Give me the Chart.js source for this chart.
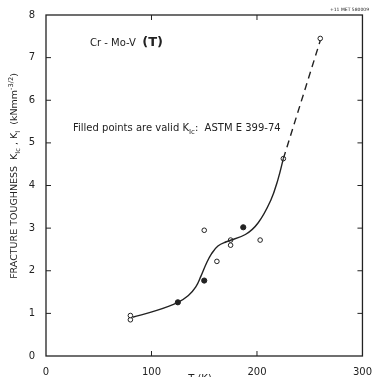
<!DOCTYPE html>
<html>
<head>
<meta charset="utf-8">
<script src="https://cdn.jsdelivr.net/npm/chart.js@4.4.1/dist/chart.umd.min.js"></script>
<style>
  html, body { margin: 0; padding: 0; background: #fff; }
  #wrap { width: 374px; height: 377px; position: relative; }
</style>
</head>
<body>
<div id="wrap"><canvas id="chart"></canvas></div>
<script>
// open circles (invalid K_I), filled (valid K_Ic)
const openT = [80, 80, 150, 162, 175, 175, 203, 225, 260];
const openK = [0.85, 0.95, 2.95, 2.22, 2.6, 2.72, 2.72, 4.63, 7.45];
const filledT = [125, 150, 187];
const filledK = [1.26, 1.77, 3.02];

// hand drawn trend curve
const curveT = [82, 105, 125, 135, 142, 147, 152, 157, 163, 171, 189, 201, 213, 220, 225];
const curveK = [0.91, 1.07, 1.26, 1.42, 1.62, 1.88, 2.17, 2.4, 2.58, 2.68, 2.85, 3.12, 3.65, 4.15, 4.63];
const dashT = [225, 260];
const dashK = [4.63, 7.4];

const xTicks = [0, 100, 200, 300];
const yTicks = [0, 1, 2, 3, 4, 5, 6, 7, 8];

const ink = '#222';
const font = '"DejaVu Sans", sans-serif';

const pts = (xs, ys) => xs.map((x, i) => ({ x: x, y: ys[i] }));

// draws a run of text pieces with sub/superscripts
function drawRich(ctx, parts, x, y, size, align) {
  let total = 0;
  parts.forEach(p => {
    ctx.font = (p.bold ? 'bold ' : '') + (p.size || (p.s ? size * 0.7 : size)) + 'px ' + font;
    total += ctx.measureText(p.t).width;
  });
  let cx = align === 'center' ? x - total / 2 : x;
  parts.forEach(p => {
    const sz = p.size || (p.s ? size * 0.7 : size);
    ctx.font = (p.bold ? 'bold ' : '') + sz + 'px ' + font;
    let dy = 0;
    if (p.s === 'sub') dy = size * 0.3;
    if (p.s === 'sup') dy = -size * 0.45;
    ctx.fillText(p.t, cx, y + dy);
    cx += ctx.measureText(p.t).width;
  });
}

const framePlugin = {
  id: 'frame',
  afterDraw(chart) {
    const ctx = chart.ctx;
    const a = chart.chartArea;
    const xs = chart.scales.x, ys = chart.scales.y;
    ctx.save();
    ctx.strokeStyle = ink;
    ctx.lineWidth = 1.3;
    ctx.strokeRect(a.left, a.top, a.right - a.left, a.bottom - a.top);

    // inward ticks
    ctx.lineWidth = 1;
    ctx.beginPath();
    yTicks.slice(1, -1).forEach(v => {
      const py = ys.getPixelForValue(v);
      ctx.moveTo(a.left, py); ctx.lineTo(a.left + 5, py);
      ctx.moveTo(a.right, py); ctx.lineTo(a.right - 5, py);
    });
    xTicks.slice(1, -1).forEach(v => {
      const px = xs.getPixelForValue(v);
      ctx.moveTo(px, a.bottom); ctx.lineTo(px, a.bottom - 5);
      ctx.moveTo(px, a.top); ctx.lineTo(px, a.top + 5);
    });
    ctx.stroke();

    ctx.fillStyle = ink;
    ctx.textBaseline = 'alphabetic';
    ctx.textAlign = 'left';

    // annotations
    drawRich(ctx, [{ t: 'Cr - Mo-V  ' }, { t: '(T)', size: 13, bold: true }], 90, 46, 10, 'left');
    drawRich(ctx, [
      { t: 'Filled points are valid K' }, { t: 'Ic', s: 'sub' }, { t: ':  ASTM E 399-74' }
    ], 73, 131, 10, 'left');

    ctx.font = '4.5px ' + font;
    ctx.textAlign = 'right';
    ctx.fillText('+11 MET 580009', 369, 11);

    // x title
    ctx.font = '10px ' + font;
    ctx.textAlign = 'center';
    ctx.fillText('T (K)', 200, 382);

    // y title
    ctx.save();
    ctx.translate(17, 176);
    ctx.rotate(-Math.PI / 2);
    ctx.textAlign = 'left';
    drawRich(ctx, [
      { t: 'FRACTURE TOUGHNESS  K' }, { t: 'Ic', s: 'sub' }, { t: ' , K' }, { t: 'I', s: 'sub' },
      { t: '  (kNmm' }, { t: '-3/2', s: 'sup' }, { t: ')' }
    ], 0, 0, 9.5, 'center');
    ctx.restore();
    ctx.restore();
  }
};

new Chart(document.getElementById('chart'), {
  type: 'scatter',
  data: {
    datasets: [
      {
        data: pts(curveT, curveK),
        showLine: true,
        borderColor: ink,
        borderWidth: 1.4,
        pointRadius: 0,
        tension: 0.4
      },
      {
        data: pts(dashT, dashK),
        showLine: true,
        borderColor: ink,
        borderWidth: 1.4,
        borderDash: [7, 5],
        pointRadius: 0
      },
      {
        data: pts(openT, openK),
        pointRadius: 2.3,
        pointBackgroundColor: '#fff',
        pointBorderColor: ink,
        pointBorderWidth: 1
      },
      {
        data: pts(filledT, filledK),
        pointRadius: 2.6,
        pointBackgroundColor: ink,
        pointBorderColor: ink,
        pointBorderWidth: 1
      }
    ]
  },
  options: {
    responsive: true,
    maintainAspectRatio: false,
    animation: false,
    layout: { padding: { top: 15, right: 9, left: 0, bottom: 0 } },
    plugins: { legend: { display: false }, tooltip: { enabled: false } },
    scales: {
      x: {
        type: 'linear',
        min: 0, max: 300,
        afterFit: s => { s.height = 21; },
        afterBuildTicks: s => { s.ticks = xTicks.map(v => ({ value: v })); },
        grid: { display: false },
        border: { display: false },
        ticks: { color: ink, padding: 2, maxRotation: 0, font: { family: font, size: 10 } }
      },
      y: {
        type: 'linear',
        min: 0, max: 8,
        afterFit: s => { s.width = 46; },
        afterBuildTicks: s => { s.ticks = yTicks.map(v => ({ value: v })); },
        grid: { display: false },
        border: { display: false },
        ticks: { color: ink, padding: 3, font: { family: font, size: 10 } }
      }
    }
  },
  plugins: [framePlugin]
});
</script>
</body>
</html>
